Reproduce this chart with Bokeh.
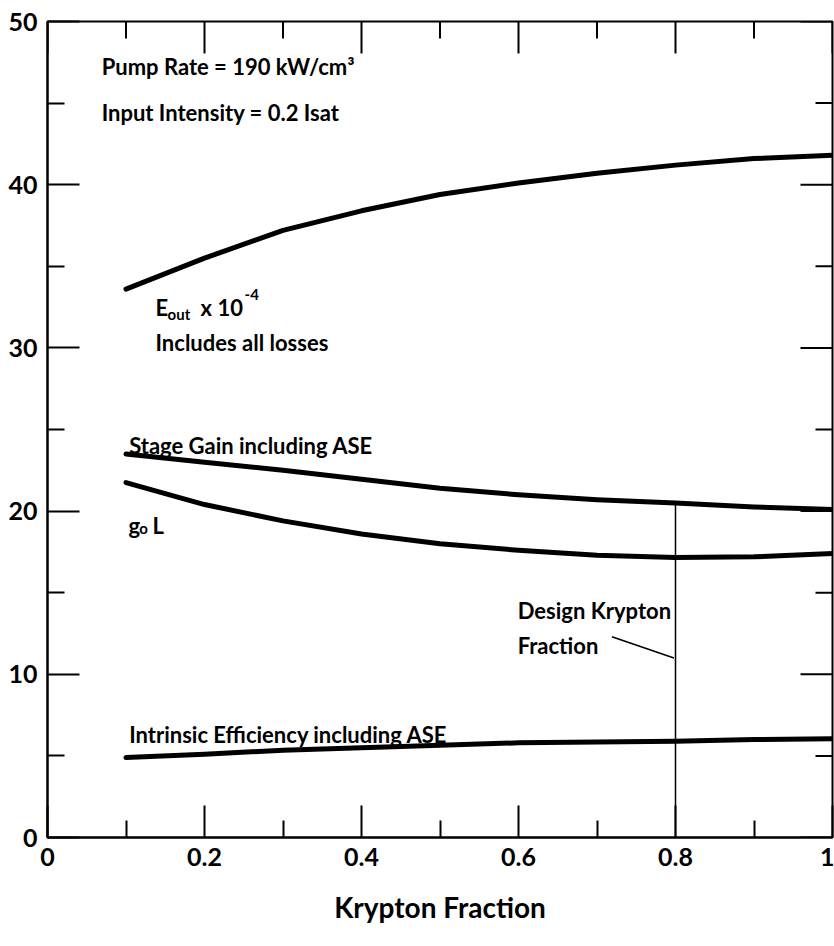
from math import pi
from bokeh.plotting import figure
from bokeh.models import Label, FixedTicker, Range1d, PrintfTickFormatter
from bokeh.embed import file_html
from bokeh.resources import INLINE

# ---- data ----
krypton_fraction = [0.1, 0.2, 0.3, 0.4, 0.5, 0.6, 0.7, 0.8, 0.9, 1.0]
e_out = [33.6, 35.5, 37.2, 38.4, 39.4, 40.1, 40.7, 41.2, 41.6, 41.8]
stage_gain = [23.5, 23.0, 22.5, 21.95, 21.4, 21.0, 20.7, 20.5, 20.25, 20.1]
g0l = [21.75, 20.4, 19.4, 18.6, 18.0, 17.6, 17.3, 17.15, 17.2, 17.4]
intrinsic_eff = [4.9, 5.1, 5.35, 5.5, 5.65, 5.8, 5.85, 5.9, 6.0, 6.05]

x_major_ticks = [0, 0.2, 0.4, 0.6, 0.8, 1.0]
x_minor_ticks = [0.1, 0.3, 0.5, 0.7, 0.9]
y_major_ticks = [0, 10, 20, 30, 40, 50]
y_minor_ticks = [5, 15, 25, 35, 45]

design_fraction = 0.8
leader_x = [0.719, 0.798]
leader_y = [12.3, 11.0]

FONT = "Lato"
X_MIN, X_MAX, Y_MIN, Y_MAX = 0, 1, 0, 50

p = figure(width=834, height=946, x_range=Range1d(X_MIN, X_MAX), y_range=Range1d(Y_MIN, Y_MAX),
           output_backend="svg", toolbar_location=None,
           min_border_left=47, min_border_right=2, min_border_top=21, min_border_bottom=109)
p.grid.visible = False
p.outline_line_color = "black"
p.outline_line_width = 2
p.background_fill_color = "white"
p.border_fill_color = "white"

xt = FixedTicker(ticks=x_major_ticks, minor_ticks=x_minor_ticks)
yt = FixedTicker(ticks=y_major_ticks, minor_ticks=y_minor_ticks)

MAJ, MIN = 32, 17

for ax in (p.xaxis[0], p.yaxis[0]):
    ax.axis_line_color = "black"
    ax.axis_line_width = 2
    ax.major_tick_in = MAJ
    ax.major_tick_out = 0
    ax.minor_tick_in = MIN
    ax.minor_tick_out = 0
    ax.major_tick_line_color = "black"
    ax.minor_tick_line_color = "black"
    ax.major_tick_line_width = 2
    ax.minor_tick_line_width = 2
    ax.major_label_text_font = FONT
    ax.major_label_text_font_style = "bold"
    ax.major_label_text_font_size = "25px"
    ax.major_label_text_color = "black"
    ax.major_label_standoff = 10

p.xaxis.ticker = xt
p.yaxis.ticker = yt
p.xaxis.formatter = PrintfTickFormatter(format="%g")
p.yaxis.formatter = PrintfTickFormatter(format="%g")
p.yaxis.major_label_orientation = "horizontal"
p.xaxis.axis_label = "Krypton Fraction"
p.xaxis.axis_label_text_font = FONT
p.xaxis.axis_label_text_font_style = "bold"
p.xaxis.axis_label_text_font_size = "28px"
p.xaxis.axis_label_text_color = "black"
p.xaxis.axis_label_standoff = 21

# ---- inward ticks on the top and right frame edges ----
tick_style = dict(line_color="black", line_width=2, length_units="screen")
p.ray(x=x_major_ticks, y=[Y_MAX] * len(x_major_ticks), length=MAJ, angle=-pi / 2, **tick_style)
p.ray(x=x_minor_ticks, y=[Y_MAX] * len(x_minor_ticks), length=MIN, angle=-pi / 2, **tick_style)
p.ray(x=[X_MAX] * len(y_major_ticks), y=y_major_ticks, length=MAJ, angle=pi, **tick_style)
p.ray(x=[X_MAX] * len(y_minor_ticks), y=y_minor_ticks, length=MIN, angle=pi, **tick_style)

# ---- curves ----
for series in (e_out, stage_gain, g0l, intrinsic_eff):
    p.line(krypton_fraction, series, line_color="black", line_width=5,
           line_join="round", line_cap="round")

# design krypton fraction marker
gain_at_design = stage_gain[krypton_fraction.index(design_fraction)]
p.segment(x0=[design_fraction], y0=[0], x1=[design_fraction], y1=[gain_at_design],
          line_color="black", line_width=1.5)
p.line(leader_x, leader_y, line_color="black", line_width=1.5)


def lab(x, y, text, size=22):
    p.add_layout(Label(x=x, y=y, text=text, text_font=FONT, text_font_style="bold",
                       text_font_size=f"{size}px", text_color="black",
                       text_align="left", text_baseline="alphabetic"))


lab(0.069, 47.24, "Pump Rate = 190 kW/cm³")
lab(0.069, 44.42, "Input Intensity = 0.2 Isat")

lab(0.1376, 32.45, "E")
lab(0.153, 32.1, "out", 15)
lab(0.195, 32.45, "x 10")
lab(0.251, 33.3, "-4", 15)
lab(0.1376, 30.31, "Includes all losses")

lab(0.104, 24.05, "Stage Gain including ASE")

lab(0.1032, 19.14, "g")
lab(0.117, 18.95, "o", 15)
lab(0.1338, 19.14, "L")

lab(0.104, 6.32, "Intrinsic Efficiency including ASE")

lab(0.599, 13.93, "Design Krypton")
lab(0.599, 11.78, "Fraction")

open("out.html", "w").write(file_html(p, INLINE))
